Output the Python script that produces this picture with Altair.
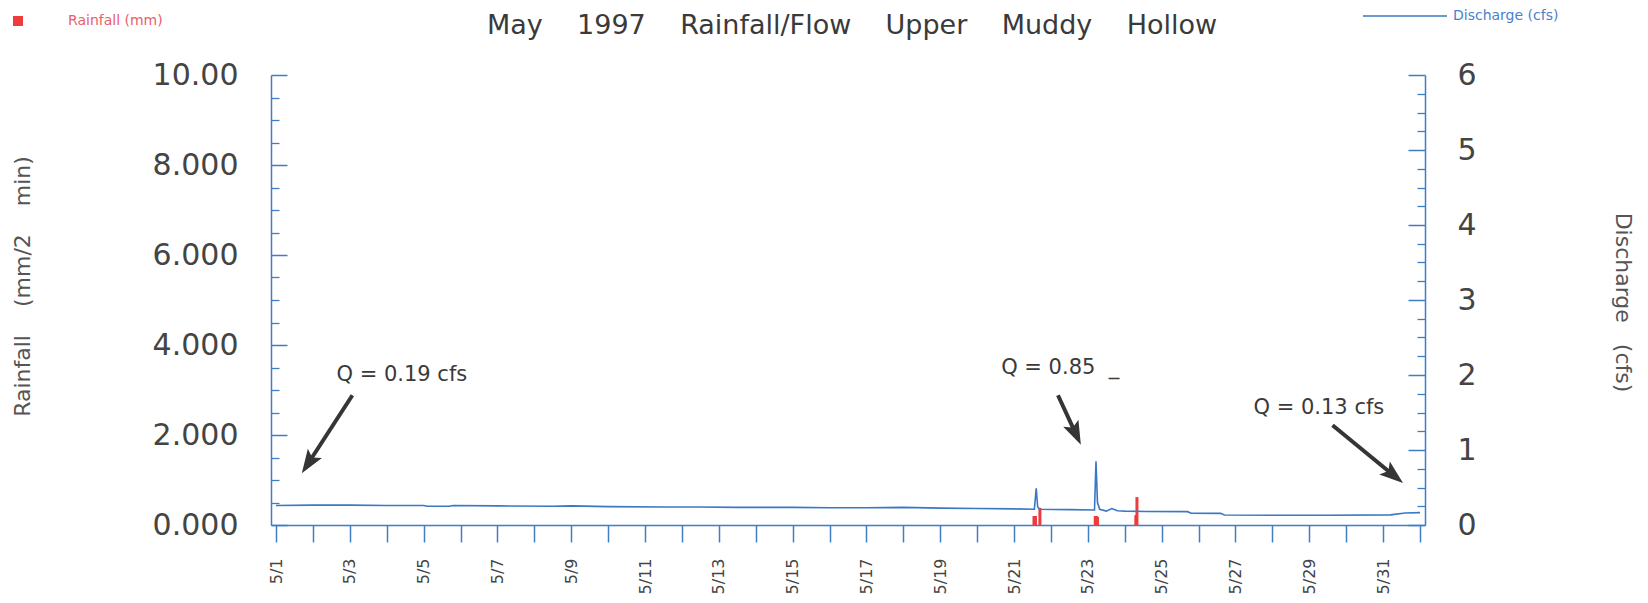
import math
import altair as alt
import pandas as pd

# ---------------- data ----------------
SP = "\u00a0" * 4
TITLE = SP.join(["May", "1997", "Rainfall/Flow", "Upper", "Muddy", "Hollow"])

# Discharge (cfs) vs day of May (fractional)
q_day = [1.0, 2.0, 3.0, 4.0, 5.0, 5.1, 5.7, 5.8, 7.0, 8.5, 9.0, 10.0, 11.5, 12.5,
         13.5, 15.0, 16.0, 17.0, 18.0, 19.0, 20.0, 21.0, 21.55, 21.60, 21.64, 21.70,
         22.5, 23.18, 23.22, 23.26, 23.32, 23.5, 23.65, 23.8, 24.0, 24.6, 25.7, 25.8,
         26.6, 26.7, 28.0, 29.5, 31.2, 31.6, 32.0]
q_cfs = [0.26, 0.265, 0.265, 0.26, 0.26, 0.25, 0.25, 0.26, 0.255, 0.25, 0.255, 0.245, 0.24, 0.24,
         0.235, 0.235, 0.23, 0.23, 0.235, 0.225, 0.22, 0.215, 0.21, 0.49, 0.24, 0.21,
         0.205, 0.20, 0.85, 0.30, 0.21, 0.185, 0.22, 0.19, 0.185, 0.18, 0.178, 0.156,
         0.155, 0.133, 0.13, 0.13, 0.135, 0.16, 0.165]

# Rainfall (mm / 2 min)
rain_day = [21.54, 21.58, 21.70, 23.20, 23.23, 23.26, 24.30, 24.33]
rain_mm = [0.20, 0.20, 0.38, 0.20, 0.20, 0.18, 0.22, 0.62]

rain_major = [0, 2, 4, 6, 8, 10]
rain_minor = [0.5, 1, 1.5, 2.5, 3, 3.5, 4.5, 5, 5.5, 6.5, 7, 7.5, 8.5, 9, 9.5]
q_major = [0, 1, 2, 3, 4, 5, 6]
q_minor = [0.25, 0.5, 0.75, 1.25, 1.5, 1.75, 2.25, 2.5, 2.75, 3.25, 3.5, 3.75,
           4.25, 4.5, 4.75, 5.25, 5.5, 5.75]
x_ticks = list(range(1, 33))

ann_text = ["Q = 0.19 cfs", "Q = 0.85\u00a0\u00a0_", "Q = 0.13 cfs"]
ann_day = [4.41, 22.25, 29.26]
ann_cfs = [2.0, 2.09, 1.56]

arr_start_day = [3.07, 22.19, 29.63]
arr_start_cfs = [1.73, 1.73, 1.33]
arr_tip_day = [1.70, 22.81, 31.54]
arr_tip_cfs = [0.69, 1.07, 0.56]

# ---------------- style ----------------
W, H = 1154, 450
BLUE = "#3f7dc4"
LINE_BLUE = "#3a78c2"
RED = "#ee3b3b"
TXT = "#444444"
FONT = "DejaVu Sans"
XMIN, XMAX = 1, 32
QMAX, RMAX = 6, 10

px_day = W / (XMAX - XMIN)
px_cfs = H / QMAX

# arrow geometry derived from the data
arrows = []
for sd, sc, td, tc in zip(arr_start_day, arr_start_cfs, arr_tip_day, arr_tip_cfs):
    dx = (td - sd) * px_day
    dy = -(tc - sc) * px_cfs
    L = math.hypot(dx, dy)
    ang = math.degrees(math.atan2(dx, -dy)) % 360
    back = 14.0  # shorten shaft so it ends inside the head
    ed = td - (dx / L) * back / px_day
    ec = tc + (dy / L) * back / px_cfs
    arrows.append({"sd": sd, "sc": sc, "td": td, "tc": tc, "ed": ed, "ec": ec, "ang": ang})
arr_df = pd.DataFrame(arrows)

q_df = pd.DataFrame({"day": q_day, "cfs": q_cfs, "series": "Discharge (cfs)"})
rain_df = pd.DataFrame({"day": rain_day, "mm": rain_mm, "series": "Rainfall (mm)"})
ann_df = pd.DataFrame({"day": ann_day, "cfs": ann_cfs, "text": ann_text})

xscale = alt.Scale(domain=[XMIN, XMAX], nice=False, zero=False)
rscale = alt.Scale(domain=[0, RMAX], nice=False)
qscale = alt.Scale(domain=[0, QMAX], nice=False)

xaxis = alt.Axis(
    values=x_ticks,
    labelExpr="(datum.value % 2 == 1 && datum.value < 32) ? '5/' + datum.value : ''",
    labelAngle=270, labelFontSize=16, labelColor=TXT, labelPadding=16,
    labelOverlap=False, labelFlush=False,
    tickSize=17, tickColor=BLUE, tickWidth=1.5,
    domainColor=BLUE, domainWidth=1.5, grid=False, title=None,
)

N4 = "\u00a0" * 4
N3 = "\u00a0" * 3
rain_axis = alt.Axis(
    orient="left", values=rain_major,
    labelExpr="datum.value == 10 ? '10.00' : format(datum.value, '.3f')",
    labelFontSize=30, labelColor=TXT, labelPadding=33, labelOverlap=False, labelFlush=False,
    ticks=False, tickSize=0, domainColor=BLUE, domainWidth=1.5, grid=False,
    title="Rainfall" + N4 + "(mm/2" + N4 + "min)", titleFontSize=22, titleFontWeight="normal",
    titleColor="#555555",
    titleX=-249, titleY=211, titleAngle=270, titleBaseline="middle", titleAlign="center",
)
rain_major_ticks = alt.Axis(orient="right", offset=-W, values=rain_major, labels=False, domain=False,
                            tickSize=16, tickColor=BLUE, tickWidth=1.5, grid=False, title=None)
rain_minor_ticks = alt.Axis(orient="right", offset=-W, values=rain_minor, labels=False, domain=False,
                            tickSize=8, tickColor=BLUE, tickWidth=1.3, grid=False, title=None)

q_axis = alt.Axis(
    orient="right", values=q_major, format="d",
    labelFontSize=30, labelColor=TXT, labelPadding=32, labelOverlap=False, labelFlush=False,
    ticks=False, tickSize=0, domainColor=BLUE, domainWidth=1.5, grid=False,
    title="Discharge" + N3 + "(cfs)", titleFontSize=22, titleFontWeight="normal", titleColor="#555555",
    titleX=197, titleY=227, titleAngle=90, titleBaseline="middle", titleAlign="center",
)
q_major_ticks = alt.Axis(orient="left", offset=-W, values=q_major, labels=False, domain=False,
                         tickSize=17, tickColor=BLUE, tickWidth=1.5, grid=False, title=None)
q_minor_ticks = alt.Axis(orient="left", offset=-W, values=q_minor, labels=False, domain=False,
                         tickSize=8, tickColor=BLUE, tickWidth=1.3, grid=False, title=None)

# ---------------- layers ----------------
rain_bars = alt.Chart(rain_df).mark_bar(size=3).encode(
    x=alt.X("day:Q", scale=xscale, axis=xaxis),
    y=alt.Y("mm:Q", scale=rscale, axis=rain_axis),
    color=alt.Color("series:N", scale=alt.Scale(domain=["Rainfall (mm)"], range=[RED]),
                    legend=alt.Legend(orient="none", legendX=-260, legendY=-61, title=None,
                                      symbolType="square", symbolSize=100, symbolStrokeWidth=1.5,
                                      labelFontSize=14, labelColor="#e8606a", labelOffset=43,
                                      padding=0, labelFont=FONT)),
)

def tick_layer(values, scale, axis):
    return alt.Chart(pd.DataFrame({"v": values})).mark_point(opacity=0).encode(
        y=alt.Y("v:Q", scale=scale, axis=axis)
    )

discharge = alt.Chart(q_df).mark_line(strokeWidth=1.6).encode(
    x=alt.X("day:Q", scale=xscale, axis=xaxis),
    y=alt.Y("cfs:Q", scale=qscale, axis=q_axis),
    stroke=alt.Stroke("series:N", scale=alt.Scale(domain=["Discharge (cfs)"], range=[LINE_BLUE]),
                      legend=alt.Legend(orient="none", legendX=1091, legendY=-102, title=None,
                                        symbolType="stroke", symbolSize=7056, symbolStrokeWidth=1.5,
                                        labelFontSize=14, labelColor="#4a7fd0", labelOffset=5,
                                        padding=0, labelFont=FONT)),
)

ann = alt.Chart(ann_df).mark_text(fontSize=21, color="#3a3a3a", align="center",
                                  baseline="middle", font=FONT).encode(
    x=alt.X("day:Q", scale=xscale, axis=xaxis),
    y=alt.Y("cfs:Q", scale=qscale, axis=None),
    text="text:N",
)

shafts = alt.Chart(arr_df).mark_rule(strokeWidth=4, color="#353535").encode(
    x=alt.X("sd:Q", scale=xscale, axis=xaxis),
    y=alt.Y("sc:Q", scale=qscale, axis=None),
    x2="ed:Q",
    y2="ec:Q",
)

heads = alt.Chart(arr_df).mark_point(
    shape="M0,0L0.6,1.7L0,1.35L-0.6,1.7Z", filled=True, size=784, color="#353535", opacity=1
).encode(
    x=alt.X("td:Q", scale=xscale, axis=xaxis),
    y=alt.Y("tc:Q", scale=qscale, axis=None),
    angle=alt.Angle("ang:Q", scale=None),
)

title_layer = alt.Chart(pd.DataFrame({"t": [TITLE]})).mark_text(
    fontSize=27, font=FONT, color="#3a3a3a", align="center", baseline="alphabetic"
).encode(
    text="t:N",
    x=alt.value(W / 2 + 4),
    y=alt.value(-41),
)

chart = alt.layer(
    rain_bars,
    tick_layer(rain_major, rscale, rain_major_ticks),
    tick_layer(rain_minor, rscale, rain_minor_ticks),
    discharge,
    tick_layer(q_major, qscale, q_major_ticks),
    tick_layer(q_minor, qscale, q_minor_ticks),
    ann, shafts, heads, title_layer,
).resolve_scale(
    y="independent"
).properties(
    width=W, height=H,
    autosize=alt.AutoSizeParams(type="none"),
    padding={"left": 263, "top": 67, "right": 215, "bottom": 70},
).configure(
    font=FONT, background="white"
).configure_view(
    strokeWidth=0
).configure_axis(
    labelFont=FONT, titleFont=FONT
)

chart.save("out.html", embed_options={"renderer": "svg", "actions": False})
